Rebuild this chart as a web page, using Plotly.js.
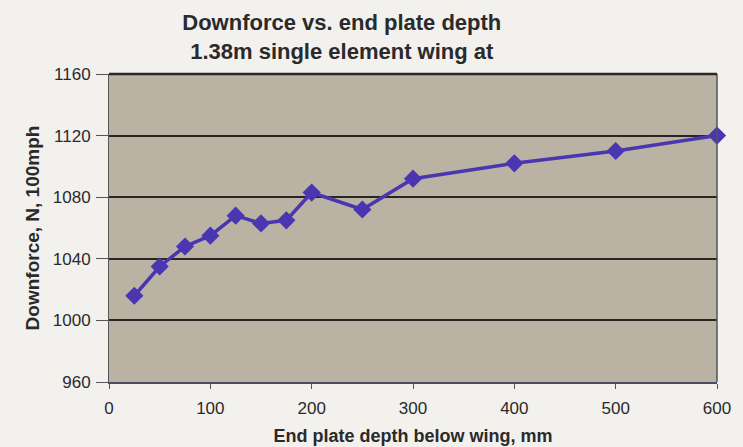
<!DOCTYPE html>
<html><head><meta charset="utf-8">
<script src="https://cdn.plot.ly/plotly-3.0.1.min.js"></script>
<style>html,body{margin:0;padding:0;background:#f2f1ee;}#chart{width:743px;height:447px;}</style>
</head><body><div id="chart"></div>
<script>
const depth = [25, 50, 75, 100, 125, 150, 175, 200, 250, 300, 400, 500, 600];
const downforce = [1016, 1035, 1048, 1055, 1068, 1063, 1065, 1083, 1072, 1092, 1102, 1110, 1120];
const xTicks = [0, 100, 200, 300, 400, 500, 600];
const yTicks = [960, 1000, 1040, 1080, 1120, 1160];

const trace = {
  x: depth, y: downforce, type: 'scatter', mode: 'lines+markers',
  line: {color: '#4a36b0', width: 3.5},
  marker: {symbol: 'diamond', size: 14, color: '#4a36b0'},
  hoverinfo: 'skip', cliponaxis: false
};
const layout = {
  width: 743, height: 447,
  paper_bgcolor: '#f2f1ee', plot_bgcolor: '#bab3a3',
  margin: {l: 109, r: 26, t: 74, b: 65},
  showlegend: false,
  font: {family: 'Liberation Sans, Arial, sans-serif', color: '#2a2a2a'},
  title: {
    text: '<b>Downforce vs. end plate depth<br>1.38m single element wing at</b>',
    x: 0.46, xanchor: 'center', y: 0.933, yanchor: 'top',
    font: {size: 22, color: '#2a2a2a'}
  },
  xaxis: {
    range: [0, 600], tickvals: xTicks, ticktext: xTicks.map(String),
    showgrid: false, zeroline: false,
    showline: true, linecolor: '#4a4a60', linewidth: 1.5, mirror: false,
    ticks: 'outside', ticklen: 5, tickcolor: '#555',
    ticklabelstandoff: 5,
    tickfont: {size: 17, color: '#2a2a2a'},
    title: {text: '<b>End plate depth below wing, mm</b>', font: {size: 18, color: '#2a2a2a'}, standoff: 12}
  },
  yaxis: {
    range: [960, 1160], tickvals: yTicks, ticktext: yTicks.map(String),
    showgrid: true, gridcolor: '#2b2622', gridwidth: 2.2,
    zeroline: false, showline: true, linecolor: '#555', linewidth: 1,
    ticks: 'outside', ticklen: 12, tickcolor: '#555',
    ticklabelstandoff: 2,
    tickfont: {size: 17, color: '#2a2a2a'},
    title: {text: '<b>Downforce, N, 100mph</b>', font: {size: 19, color: '#2a2a2a'}, standoff: 8}
  },
  shapes: [
    {type: 'line', xref: 'paper', yref: 'paper', x0: 1, x1: 1, y0: 0, y1: 1, line: {color: '#555', width: 1.5}},
    {type: 'line', xref: 'paper', yref: 'paper', x0: 0, x1: 1, y0: 1, y1: 1, line: {color: '#2b2622', width: 2.5}}
  ]
};
Plotly.newPlot('chart', [trace], layout, {displayModeBar: false, staticPlot: true});
</script></body></html>
